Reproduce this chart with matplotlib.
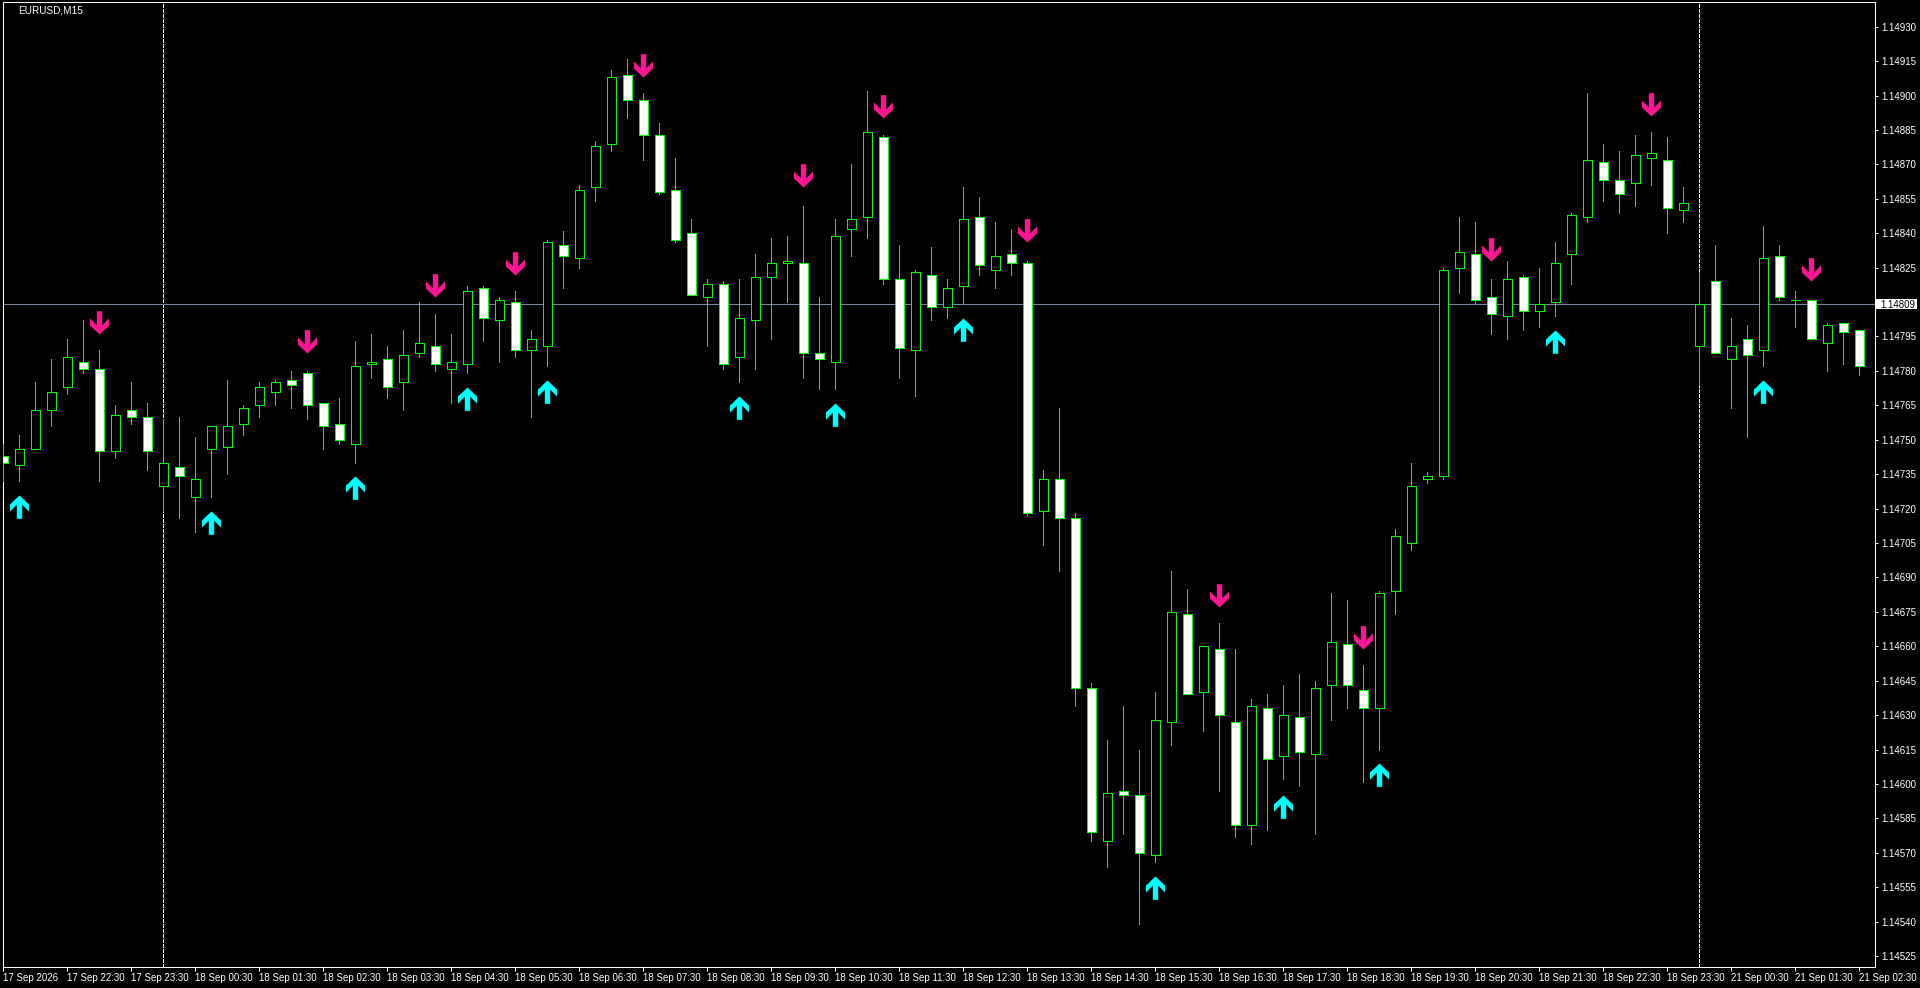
import matplotlib
matplotlib.use("Agg")
import numpy as np
import matplotlib.pyplot as plt
from matplotlib.path import Path
from matplotlib.patches import Rectangle
from matplotlib.transforms import blended_transform_factory

plt.rcParams['font.family'] = ['Liberation Sans', 'DejaVu Sans']

# ---------------- data ----------------
title_text = "EURUSD,M15"

opens = [1.14743, 1.14739, 1.14746, 1.14763, 1.14773, 1.14784, 1.14781, 1.14745, 1.14763, 1.14760,
         1.14730, 1.14738, 1.14725, 1.14746, 1.14747, 1.14757, 1.14765, 1.14771, 1.14776, 1.14779,
         1.14766, 1.14757, 1.14748, 1.14783, 1.14785, 1.14775, 1.14788, 1.14791, 1.14781, 1.14783,
         1.14816, 1.14802, 1.14810, 1.14789, 1.14791, 1.14835, 1.14829, 1.14860, 1.14879, 1.14909,
         1.14898, 1.14883, 1.14859, 1.14840, 1.14812, 1.14818, 1.14786, 1.14802, 1.14821, 1.14827,
         1.14827, 1.14788, 1.14784, 1.14842, 1.14847, 1.14882, 1.14820, 1.14789, 1.14822, 1.14808,
         1.14817, 1.14847, 1.14824, 1.14831, 1.14827, 1.14719, 1.14733, 1.14716, 1.14642, 1.14575,
         1.14597, 1.14595, 1.14569, 1.14627, 1.14674, 1.14640, 1.14659, 1.14627, 1.14582, 1.14633,
         1.14612, 1.14629, 1.14613, 1.14643, 1.14661, 1.14641, 1.14633, 1.14684, 1.14705, 1.14733,
         1.14734, 1.14825, 1.14831, 1.14812, 1.14804, 1.14821, 1.14806, 1.14810, 1.14831, 1.14847,
         1.14871, 1.14863, 1.14862, 1.14873, 1.14872, 1.14850, 1.14791, 1.14819, 1.14785, 1.14794,
         1.14789, 1.14830, 1.14811, 1.14811, 1.14792, 1.14801, 1.14798]
highs = [1.14748, 1.14752, 1.14775, 1.14785, 1.14794, 1.14802, 1.14789, 1.14765, 1.14775, 1.14766,
         1.14759, 1.14760, 1.14751, 1.14756, 1.14776, 1.14765, 1.14775, 1.14776, 1.14780, 1.14780,
         1.14766, 1.14768, 1.14793, 1.14796, 1.14791, 1.14798, 1.14810, 1.14805, 1.14796, 1.14817,
         1.14817, 1.14812, 1.14815, 1.14798, 1.14837, 1.14841, 1.14861, 1.14880, 1.14911, 1.14916,
         1.14901, 1.14888, 1.14873, 1.14846, 1.14820, 1.14819, 1.14820, 1.14831, 1.14838, 1.14839,
         1.14852, 1.14812, 1.14846, 1.14870, 1.14902, 1.14883, 1.14835, 1.14824, 1.14834, 1.14820,
         1.14860, 1.14856, 1.14845, 1.14842, 1.14828, 1.14737, 1.14764, 1.14718, 1.14644, 1.14619,
         1.14634, 1.14615, 1.14640, 1.14693, 1.14685, 1.14660, 1.14670, 1.14659, 1.14637, 1.14639,
         1.14643, 1.14648, 1.14645, 1.14683, 1.14680, 1.14652, 1.14684, 1.14711, 1.14740, 1.14736,
         1.14825, 1.14847, 1.14845, 1.14820, 1.14828, 1.14822, 1.14825, 1.14836, 1.14849, 1.14901,
         1.14879, 1.14876, 1.14883, 1.14884, 1.14882, 1.14860, 1.14823, 1.14835, 1.14803, 1.14800,
         1.14843, 1.14835, 1.14815, 1.14811, 1.14801, 1.14801, 1.14798]
lows = [1.14732, 1.14732, 1.14746, 1.14756, 1.14770, 1.14779, 1.14732, 1.14742, 1.14757, 1.14737,
        1.14719, 1.14716, 1.14710, 1.14725, 1.14735, 1.14752, 1.14760, 1.14765, 1.14764, 1.14759,
        1.14746, 1.14748, 1.14740, 1.14777, 1.14768, 1.14763, 1.14786, 1.14780, 1.14766, 1.14779,
        1.14793, 1.14784, 1.14786, 1.14760, 1.14782, 1.14816, 1.14825, 1.14854, 1.14876, 1.14890,
        1.14872, 1.14857, 1.14836, 1.14813, 1.14791, 1.14781, 1.14775, 1.14781, 1.14794, 1.14810,
        1.14777, 1.14772, 1.14772, 1.14830, 1.14838, 1.14818, 1.14777, 1.14769, 1.14802, 1.14803,
        1.14809, 1.14822, 1.14816, 1.14822, 1.14717, 1.14704, 1.14693, 1.14634, 1.14575, 1.14564,
        1.14578, 1.14539, 1.14566, 1.14617, 1.14639, 1.14623, 1.14597, 1.14577, 1.14574, 1.14580,
        1.14602, 1.14599, 1.14578, 1.14628, 1.14633, 1.14601, 1.14615, 1.14674, 1.14702, 1.14731,
        1.14733, 1.14814, 1.14809, 1.14796, 1.14794, 1.14798, 1.14799, 1.14804, 1.14818, 1.14845,
        1.14854, 1.14849, 1.14852, 1.14861, 1.14840, 1.14845, 1.14774, 1.14788, 1.14764, 1.14751,
        1.14782, 1.14811, 1.14799, 1.14794, 1.14780, 1.14783, 1.14778]
closes = [1.14740, 1.14746, 1.14763, 1.14771, 1.14786, 1.14781, 1.14745, 1.14761, 1.14760, 1.14745,
          1.14740, 1.14734, 1.14733, 1.14756, 1.14756, 1.14764, 1.14773, 1.14775, 1.14774, 1.14765,
          1.14756, 1.14750, 1.14782, 1.14784, 1.14773, 1.14787, 1.14792, 1.14783, 1.14784, 1.14815,
          1.14803, 1.14811, 1.14789, 1.14794, 1.14836, 1.14830, 1.14859, 1.14878, 1.14908, 1.14898,
          1.14883, 1.14858, 1.14837, 1.14813, 1.14818, 1.14783, 1.14803, 1.14821, 1.14827, 1.14828,
          1.14788, 1.14785, 1.14839, 1.14846, 1.14884, 1.14820, 1.14790, 1.14823, 1.14808, 1.14816,
          1.14846, 1.14826, 1.14830, 1.14827, 1.14718, 1.14733, 1.14716, 1.14642, 1.14579, 1.14596,
          1.14595, 1.14570, 1.14628, 1.14675, 1.14639, 1.14660, 1.14630, 1.14582, 1.14634, 1.14611,
          1.14630, 1.14614, 1.14642, 1.14662, 1.14643, 1.14633, 1.14683, 1.14708, 1.14730, 1.14734,
          1.14824, 1.14832, 1.14811, 1.14805, 1.14820, 1.14806, 1.14809, 1.14827, 1.14848, 1.14872,
          1.14863, 1.14857, 1.14874, 1.14875, 1.14851, 1.14853, 1.14809, 1.14788, 1.14791, 1.14787,
          1.14829, 1.14812, 1.14811, 1.14794, 1.14800, 1.14797, 1.14782]

# signal arrows (bar index, price at arrow tip)
up_idx = [1, 13, 22, 29, 34, 46, 52, 60, 72, 80, 86, 97, 110]
up_price = [1.14726, 1.14719, 1.14734, 1.14773, 1.14776, 1.14769, 1.14766,
            1.14803, 1.14560, 1.14595, 1.14609, 1.14798, 1.14776]
dn_idx = [6, 19, 27, 32, 40, 50, 55, 64, 76, 85, 93, 103, 113]
dn_price = [1.14796, 1.14788, 1.14812, 1.14822, 1.14908, 1.14860, 1.14890,
            1.14836, 1.14677, 1.14659, 1.14828, 1.14891, 1.14819]

day_sep_idx = [10, 106]
bid_price = 1.14809
bid_label = "1.14809"

xtick_idx = [0, 4, 8, 12, 16, 20, 24, 28, 32, 36, 40, 44, 48, 52, 56, 60, 64, 68, 72, 76,
             80, 84, 88, 92, 96, 100, 104, 108, 112, 116]
xtick_labels = ["17 Sep 2026", "17 Sep 22:30", "17 Sep 23:30",
                "18 Sep 00:30", "18 Sep 01:30", "18 Sep 02:30", "18 Sep 03:30", "18 Sep 04:30",
                "18 Sep 05:30", "18 Sep 06:30", "18 Sep 07:30", "18 Sep 08:30", "18 Sep 09:30",
                "18 Sep 10:30", "18 Sep 11:30", "18 Sep 12:30", "18 Sep 13:30", "18 Sep 14:30",
                "18 Sep 15:30", "18 Sep 16:30", "18 Sep 17:30", "18 Sep 18:30", "18 Sep 19:30",
                "18 Sep 20:30", "18 Sep 21:30", "18 Sep 22:30", "18 Sep 23:30",
                "21 Sep 00:30", "21 Sep 01:30", "21 Sep 02:30"]
ytick_vals = [1.14525, 1.14540, 1.14555, 1.14570, 1.14585, 1.14600, 1.14615, 1.14630,
              1.14645, 1.14660, 1.14675, 1.14690, 1.14705, 1.14720, 1.14735, 1.14750,
              1.14765, 1.14780, 1.14795, 1.14825, 1.14840, 1.14855, 1.14870, 1.14885,
              1.14900, 1.14915, 1.14930]

# ---------------- styles ----------------
W, H = 1920, 988
GREEN = '#00FF00'
CYAN = '#00FFFF'
PINK = '#FF1493'
BIDC = '#778899'
PX = 0.72  # one pixel in points at dpi 100
FS = 7.0

fig = plt.figure(figsize=(W / 100, H / 100), dpi=100, facecolor='black')
L, R, T, B = 2.5, 1874.5, 2.5, 967.0
ax = fig.add_axes([L / W, (H - B) / H, (R - L) / W, (B - T) / H])
ax.set_facecolor('black')

x = np.arange(len(opens))
o = np.array(opens); h = np.array(highs); lo = np.array(lows); c = np.array(closes)
bull = c > o
bear = c < o
doji = c == o
body_lo = np.minimum(o, c)
body_h = np.abs(c - o)
bw = 0.5625

# day separators and bid line (behind candles)
for d in day_sep_idx:
    ax.axvline(d, color='white', lw=PX, linestyle=(0, (4, 2)), zorder=1, antialiased=False)
ax.axhline(bid_price, color=BIDC, lw=PX, zorder=1.5, antialiased=False)

# wicks
ax.vlines(x, lo, h, colors=GREEN, lw=PX, zorder=3, antialiased=False)
# bodies
ax.bar(x[bull], body_h[bull], bottom=body_lo[bull], width=bw, facecolor='black',
       edgecolor=GREEN, linewidth=PX, zorder=4, antialiased=False)
ax.bar(x[bear], body_h[bear], bottom=body_lo[bear], width=bw, facecolor='white',
       edgecolor=GREEN, linewidth=PX, zorder=4, antialiased=False)
if doji.any():
    ax.hlines(o[doji], x[doji] - bw / 2, x[doji] + bw / 2, colors=GREEN,
              lw=PX, zorder=4, antialiased=False)

# arrows (custom marker paths, tip at the marker origin)
dn_verts = [(0, 0), (9.5, 9), (9.5, 16), (2.7, 9.2), (2.7, 23.3), (-2.7, 23.3),
            (-2.7, 9.2), (-9.5, 16), (-9.5, 9), (0, 0)]
codes = [Path.MOVETO] + [Path.LINETO] * (len(dn_verts) - 2) + [Path.CLOSEPOLY]
dn_path = Path(dn_verts, codes)
up_path = Path([(vx, -vy) for vx, vy in dn_verts], codes)
MS = 2 * 23.3 * PX
ax.plot(up_idx, up_price, linestyle='none', marker=up_path, ms=MS,
        mfc=CYAN, mec='none', mew=0, zorder=6)
ax.plot(dn_idx, dn_price, linestyle='none', marker=dn_path, ms=MS,
        mfc=PINK, mec='none', mew=0, zorder=6)

# limits
ax.set_xlim(-0.05, 116.95)
ax.set_ylim(1.1452022, 1.1494055)

# spines
for s in ax.spines.values():
    s.set_color('white')
    s.set_linewidth(PX)

# axes ticks
ax.yaxis.tick_right()
ax.set_yticks(ytick_vals)
ax.set_yticklabels([f"{v:.5f}" for v in ytick_vals])
ax.set_xticks(xtick_idx)
ax.set_xticklabels(xtick_labels)
for lbl in ax.get_xticklabels():
    lbl.set_horizontalalignment('left')
ax.tick_params(axis='y', which='both', direction='out', length=2.3, width=PX,
               colors='white', pad=2.4, labelsize=FS)
ax.tick_params(axis='x', which='both', direction='out', length=3.0, width=PX,
               colors='white', pad=1.2, labelsize=FS)

# bid price label box on the price scale
tr = blended_transform_factory(fig.transFigure, ax.transData)
pp = 0.00015 / 34.42  # price per pixel
ax.add_patch(Rectangle((1876 / W, bid_price - 5 * pp), 41 / W, 10 * pp, transform=tr,
                       facecolor='white', edgecolor='none', clip_on=False, zorder=10))
ax.text(1880.5 / W, bid_price, bid_label, transform=tr, color='black', fontsize=FS,
        ha='left', va='center_baseline', zorder=11, clip_on=False)

# title
fig.text(18 / W, 1 - 10.8 / H, title_text, color='white', fontsize=FS + 0.2,
         ha='left', va='center')

fig.savefig('out.png', dpi=100, facecolor='black')
